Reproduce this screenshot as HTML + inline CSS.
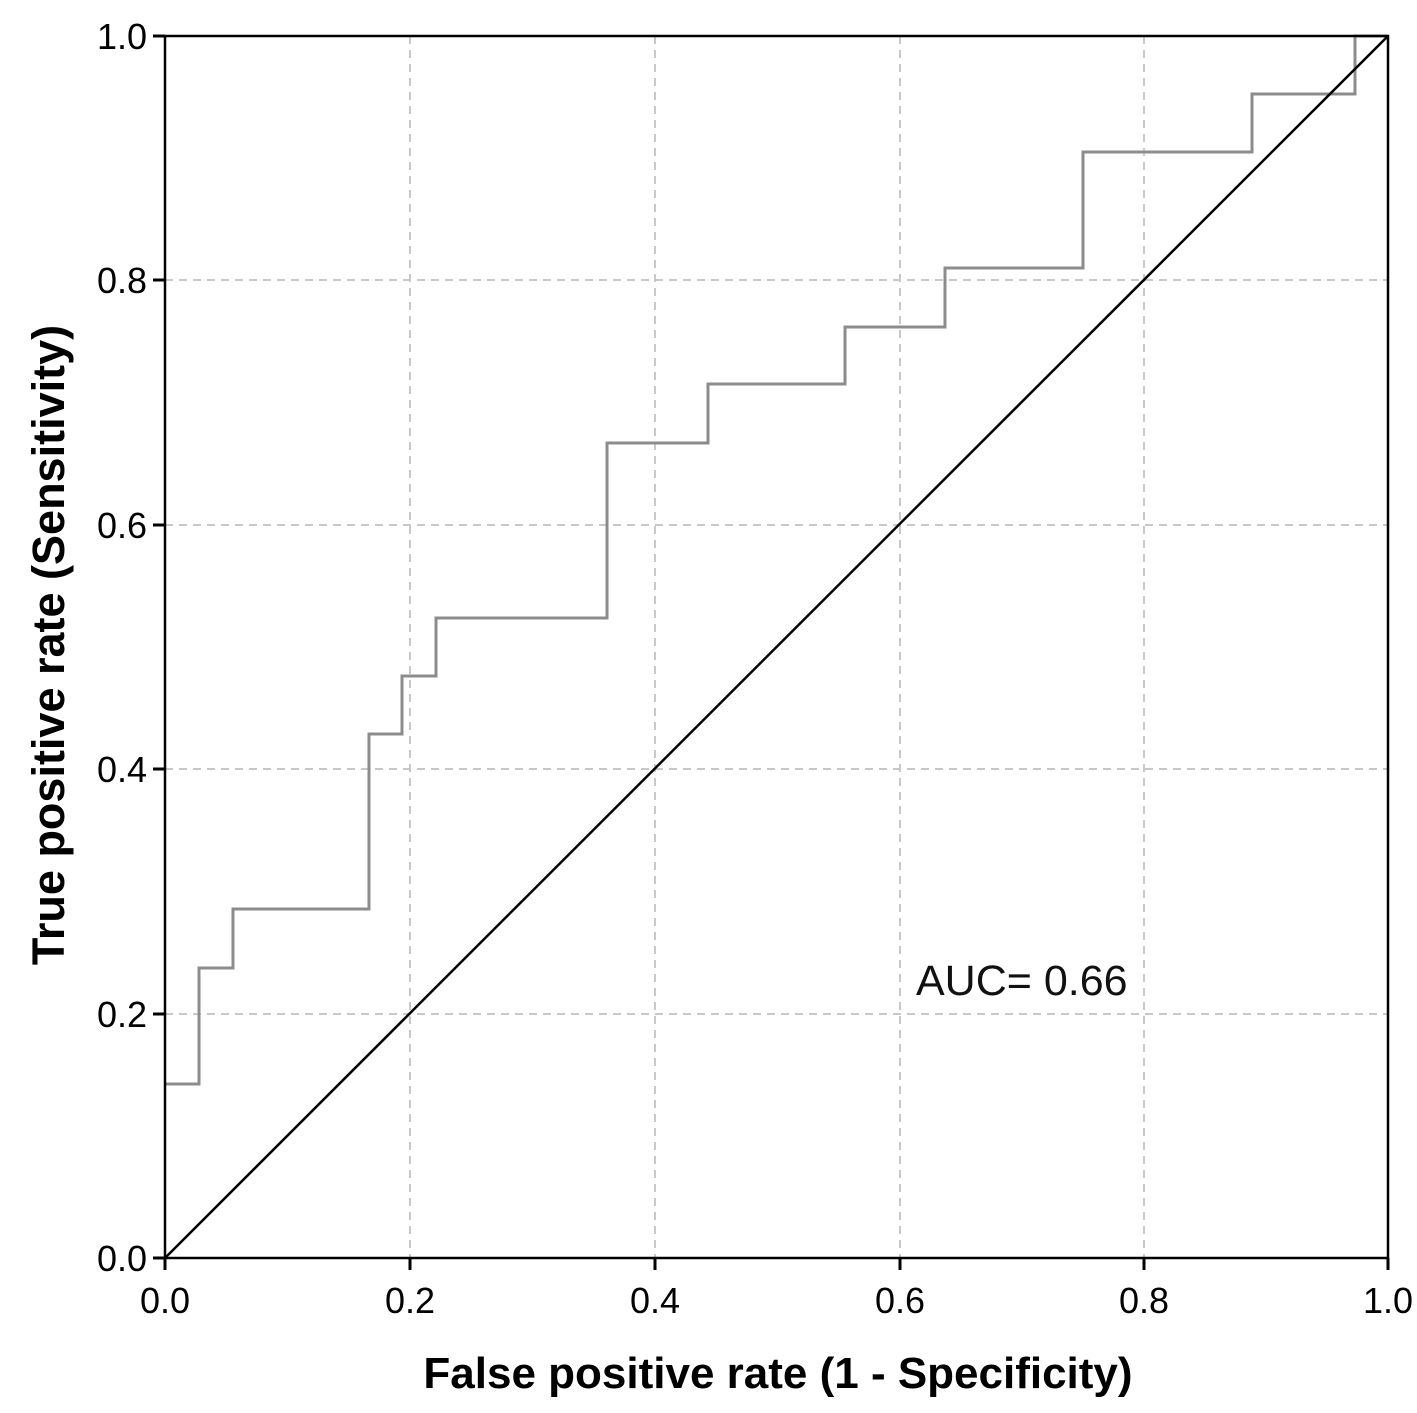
<!DOCTYPE html>
<html><head><style>body{margin:0;background:#fff}</style></head><body>
<svg width="1417" height="1408" xmlns="http://www.w3.org/2000/svg" font-family="Liberation Sans, Arial, sans-serif">
<rect width="1417" height="1408" fill="#fff"/>
<g stroke="#c8c8c8" stroke-width="2" stroke-dasharray="8,6">
<line x1="410" y1="36" x2="410" y2="1258"/><line x1="655" y1="36" x2="655" y2="1258"/><line x1="900" y1="36" x2="900" y2="1258"/><line x1="1144" y1="36" x2="1144" y2="1258"/>
<line x1="165" y1="1014" x2="1388" y2="1014"/><line x1="165" y1="769" x2="1388" y2="769"/><line x1="165" y1="525" x2="1388" y2="525"/><line x1="165" y1="280" x2="1388" y2="280"/>
</g>
<polyline fill="none" stroke="#8c8c8c" stroke-width="3" points="165,1084 199,1084 199,968 233,968 233,909 369,909 369,734 402,734 402,676 436,676 436,618 607,618 607,443 708,443 708,384 845,384 845,327 945,327 945,268 1083,268 1083,152 1252,152 1252,94 1355,94 1355,36 1388,36"/>
<line x1="165" y1="1258" x2="1388" y2="36" stroke="#000" stroke-width="2.5"/>
<rect x="165" y="36" width="1223" height="1222" fill="none" stroke="#000" stroke-width="2.5"/>
<g stroke="#000" stroke-width="3">
<line x1="165" y1="1258" x2="165" y2="1270"/><line x1="410" y1="1258" x2="410" y2="1270"/><line x1="655" y1="1258" x2="655" y2="1270"/><line x1="900" y1="1258" x2="900" y2="1270"/><line x1="1144" y1="1258" x2="1144" y2="1270"/><line x1="1388" y1="1258" x2="1388" y2="1270"/>
<line x1="153" y1="1258" x2="165" y2="1258"/><line x1="153" y1="1014" x2="165" y2="1014"/><line x1="153" y1="769" x2="165" y2="769"/><line x1="153" y1="525" x2="165" y2="525"/><line x1="153" y1="280" x2="165" y2="280"/><line x1="153" y1="36" x2="165" y2="36"/>
</g>
<g font-size="36" text-anchor="middle" fill="#000">
<text x="165" y="1313">0.0</text><text x="410" y="1313">0.2</text><text x="655" y="1313">0.4</text><text x="900" y="1313">0.6</text><text x="1144" y="1313">0.8</text><text x="1388" y="1313">1.0</text>
</g>
<g font-size="36" text-anchor="end" fill="#000">
<text x="147" y="1271">0.0</text><text x="147" y="1027">0.2</text><text x="147" y="782">0.4</text><text x="147" y="538">0.6</text><text x="147" y="293">0.8</text><text x="147" y="49">1.0</text>
</g>
<text x="778" y="1388" font-size="44" font-weight="bold" text-anchor="middle">False positive rate (1 - Specificity)</text>
<text transform="translate(64,645) rotate(-90)" font-size="45" font-weight="bold" text-anchor="middle">True positive rate (Sensitivity)</text>
<text x="916" y="995" font-size="43" fill="#111">AUC= 0.66</text>
</svg>
</body></html>
